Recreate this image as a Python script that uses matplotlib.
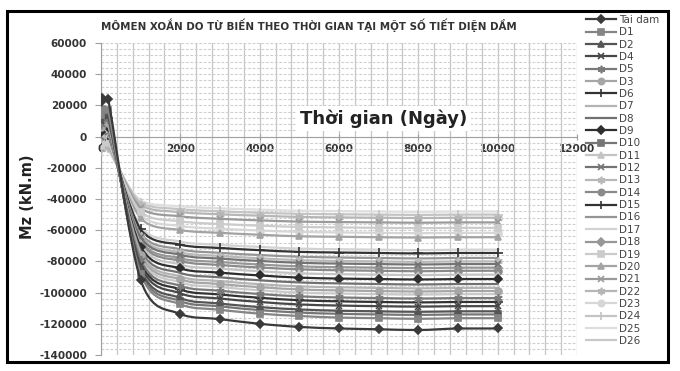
import matplotlib
matplotlib.use("Agg")
import matplotlib.pyplot as plt
from matplotlib.ticker import MultipleLocator
from matplotlib.patches import Rectangle, PathPatch
from matplotlib.path import Path
from matplotlib.lines import Line2D

# ---------------- data ----------------
days = [0, 28, 180, 1000, 2000, 3000, 4000, 5000, 6000, 7000, 8000, 9000, 10000]

series_names = ["Tai dam", "D1", "D2", "D4", "D5", "D3", "D6", "D7", "D8", "D9",
                "D10", "D11", "D12", "D13", "D14", "D15", "D16", "D17", "D18",
                "D19", "D20", "D21", "D22", "D23", "D24", "D25", "D26"]

tai_dam = [22000, 25000, 24000, -92000, -113800, -117000, -120000, -122000, -123000, -123500, -124000, -123000, -123000]
d1 = [14000, 18000, 17000, -88000, -107500, -111000, -113500, -115000, -116000, -116400, -116800, -116400, -116400]
d2 = [12000, 16000, 15000, -85000, -103500, -107000, -109300, -110800, -111600, -112000, -112300, -112000, -112000]
d4 = [10000, 14000, 13000, -82500, -100500, -103800, -106000, -107600, -108300, -108700, -109000, -108700, -108700]
d5 = [8000, 12000, 11000, -79000, -95700, -98800, -100900, -102400, -103100, -103500, -103800, -103500, -103500]
d3 = [6000, 10000, 9000, -76000, -91500, -94500, -96500, -98000, -98600, -99000, -99300, -99000, -99000]
d6 = [9000, 13000, 12000, -80500, -98000, -101200, -103300, -104900, -105600, -106000, -106300, -106000, -106000]
d7 = [5000, 9000, 8000, -74500, -89700, -92600, -94600, -96000, -96600, -97000, -97300, -97000, -97000]
d8 = [4000, 8000, 7000, -73000, -87400, -90200, -92100, -93500, -94100, -94500, -94800, -94500, -94500]
d9 = [3000, 7000, 6000, -70500, -84500, -87200, -89000, -90400, -91000, -91300, -91600, -91300, -91300]
d10 = [13000, 17000, 16000, -86500, -105500, -108800, -111200, -112800, -113600, -114000, -114300, -114000, -114000]
d11 = [2000, 6000, 5000, -69000, -82000, -84600, -86300, -87600, -88200, -88500, -88800, -88500, -88500]
d12 = [0, 4000, 3000, -64500, -75800, -78200, -79700, -80900, -81400, -81700, -82000, -81700, -81700]
d13 = [-1000, 3000, 2000, -63500, -74200, -76500, -78000, -79200, -79700, -80000, -80300, -80000, -80000]
d14 = [1000, 5000, 4000, -67500, -79700, -82300, -83900, -85100, -85700, -86000, -86300, -86000, -86000]
d15 = [-2000, 2000, 1000, -59500, -69300, -71400, -72800, -73900, -74300, -74600, -74900, -74600, -74600]
d16 = [-1500, 2500, 1500, -62000, -72200, -74500, -75900, -77000, -77500, -77800, -78100, -77800, -77800]
d17 = [-3000, 1000, 0, -58000, -67300, -69400, -70700, -71800, -72200, -72500, -72800, -72500, -72500]
d18 = [500, 4500, 3500, -66500, -78000, -80400, -82000, -83200, -83700, -84000, -84300, -84000, -84000]
d19 = [-6000, -3000, -4000, -48500, -54300, -56000, -57100, -57900, -58200, -58500, -58700, -58500, -58500]
d20 = [-4500, -1000, -2000, -52500, -59900, -61700, -62900, -63900, -64200, -64500, -64700, -64500, -64500]
d21 = [-7000, -4000, -5000, -46000, -51100, -52700, -53700, -54500, -54800, -55000, -55200, -55000, -55000]
d22 = [-8000, -5500, -6500, -44000, -48400, -49800, -50700, -51500, -51800, -52000, -52200, -52000, -52000]
d23 = [-5000, -2000, -3000, -50500, -57300, -59000, -60200, -61100, -61400, -61700, -61900, -61700, -61700]
d24 = [-9000, -6500, -7500, -42500, -46500, -47900, -48800, -49500, -49800, -50000, -50200, -50000, -50000]
d25 = [-10000, -8000, -9000, -41000, -44700, -46000, -46800, -47500, -47800, -48000, -48200, -48000, -48000]
d26 = [7000, 11000, 10000, -77500, -93400, -96400, -98500, -100000, -100600, -101000, -101300, -101000, -101000]

series_values = [tai_dam, d1, d2, d4, d5, d3, d6, d7, d8, d9, d10, d11, d12, d13,
                 d14, d15, d16, d17, d18, d19, d20, d21, d22, d23, d24, d25, d26]

x_ticks = [0, 2000, 4000, 6000, 8000, 10000, 12000]
y_ticks = [60000, 40000, 20000, 0, -20000, -40000, -60000, -80000, -100000, -120000, -140000]

# ---------------- styles ----------------
star = (6, 2, 0)
styles = [
    ("#3a3a3a", "D", 4.0), ("#858585", "s", 4.5), ("#555555", "^", 5.0),
    ("#474747", "x", 5.0), ("#7a7a7a", star, 6.0), ("#a6a6a6", "o", 5.0),
    ("#333333", "+", 7.0), ("#b4b4b4", None, 0), ("#707070", None, 0),
    ("#2e2e2e", "D", 4.0), ("#767676", "s", 4.5), ("#c4c4c4", "^", 5.0),
    ("#737373", "x", 5.0), ("#b8b8b8", star, 6.0), ("#8a8a8a", "o", 5.0),
    ("#333333", "+", 7.0), ("#959595", None, 0), ("#d2d2d2", None, 0),
    ("#979797", "D", 4.0), ("#cbcbcb", "s", 4.5), ("#a3a3a3", "^", 5.0),
    ("#9a9a9a", "x", 5.0), ("#b6b6b6", star, 6.0), ("#d6d6d6", "o", 5.0),
    ("#c4c4c4", "+", 7.0), ("#dedede", None, 0), ("#c9c9c9", None, 0),
]
LW = 1.6


def _clamp(v, a, b):
    lo, hi = min(a, b), max(a, b)
    return max(lo, min(hi, v))


def smooth_path(xs, ys):
    """Smoothed line (Excel-like) through the data points, without overshoot."""
    n = len(xs)
    verts = [(xs[0], ys[0])]
    codes = [Path.MOVETO]
    for i in range(n - 1):
        xa, ya = (xs[i - 1], ys[i - 1]) if i > 0 else (xs[i], ys[i])
        xb, yb = xs[i], ys[i]
        xc, yc = xs[i + 1], ys[i + 1]
        xd, yd = (xs[i + 2], ys[i + 2]) if i + 2 < n else (xc, yc)
        c1 = (_clamp(xb + (xc - xa) / 6.0, xb, xc), _clamp(yb + (yc - ya) / 6.0, yb, yc))
        c2 = (_clamp(xc - (xd - xb) / 6.0, xb, xc), _clamp(yc - (yd - yb) / 6.0, yb, yc))
        verts += [c1, c2, (xc, yc)]
        codes += [Path.CURVE4, Path.CURVE4, Path.CURVE4]
    return Path(verts, codes)


W, H = 680, 371
fig = plt.figure(figsize=(W / 100, H / 100), dpi=100)
fig.patch.set_facecolor("white")

ax = fig.add_axes([101 / W, 1 - 355 / H, 476 / W, 312 / H])
ax.set_xlim(0, 12000)
ax.set_ylim(-140000, 60000)

# grid
ax.xaxis.set_minor_locator(MultipleLocator(400))
ax.yaxis.set_minor_locator(MultipleLocator(4000))
ax.grid(which="minor", axis="x", color="#c6c6c6", lw=0.9, ls="-")
ax.grid(which="major", axis="x", color="#c6c6c6", lw=0.9, ls="-")
ax.grid(which="minor", axis="y", color="#cfcfcf", lw=0.8, ls=(0, (2.5, 1.5)))
ax.grid(which="major", axis="y", color="#cfcfcf", lw=0.8, ls=(0, (2.5, 1.5)))
ax.set_axisbelow(True)

handles = []
for i, (name, vals) in enumerate(zip(series_names, series_values)):
    col, mk, ms = styles[i]
    z = 3 + (27 - i) * 0.01
    ax.add_patch(PathPatch(smooth_path(days, vals), facecolor="none",
                           edgecolor=col, lw=LW, zorder=z, capstyle="round",
                           joinstyle="round"))
    if mk is not None:
        ax.plot(days, vals, ls="none", marker=mk, ms=ms, mfc=col, mec=col,
                mew=1.2, zorder=z)
    handles.append(Line2D([], [], color=col, lw=LW, marker=mk, ms=ms * 0.9,
                          mfc=col, mec=col, mew=1.2, label=name))

# spines
for s in ["top", "right"]:
    ax.spines[s].set_visible(False)
ax.spines["bottom"].set_position(("data", 0))
ax.spines["bottom"].set_color("#a0a0a0")
ax.spines["bottom"].set_zorder(2)
ax.spines["left"].set_color("#a0a0a0")

ax.set_xticks(x_ticks)
ax.set_yticks(y_ticks)
ax.set_xticklabels([str(v) for v in x_ticks])
ax.set_yticklabels([str(v) for v in y_ticks])
ax.tick_params(axis="both", which="major", labelsize=7.5, labelcolor="#333333",
               color="#a0a0a0", length=4, width=0.8)
ax.tick_params(axis="x", which="major", direction="inout", pad=3)
ax.tick_params(axis="y", which="major", direction="out", pad=6)
ax.tick_params(which="minor", length=0)
for lab in ax.get_xticklabels() + ax.get_yticklabels():
    lab.set_fontweight("bold")

# title and labels
fig.text(309 / W, 1 - 25 / H, "MÔMEN XOẮN DO TỪ BIẾN THEO THỜI GIAN TẠI MỘT SỐ TIẾT DIỆN DẦM",
         ha="center", va="center", fontsize=7.4, fontweight="bold", color="#333333")
ax.text(7130, 11500, "Thời gian (Ngày)", ha="center", va="center", fontsize=13,
        fontweight="bold", color="#222222",
        bbox=dict(facecolor="white", edgecolor="none", pad=2.5), zorder=5)
fig.text(27 / W, 1 - 197 / H, "Mz (kN.m)", rotation=90, ha="center", va="center",
         fontsize=10.5, fontweight="bold", color="#222222")

leg = ax.legend(handles=handles, loc="upper left",
                bbox_to_anchor=(586 / W, 1 - 15 / H),
                bbox_transform=fig.transFigure, frameon=False, fontsize=7.5,
                labelspacing=0.225, handlelength=2.9, handletextpad=0.25,
                borderpad=0, borderaxespad=0)
for t in leg.get_texts():
    t.set_color("#444444")

# outer border
fig.patches.append(Rectangle((7 / W, 1 - 362 / H), 661 / W, 351 / H,
                             transform=fig.transFigure, fill=False,
                             edgecolor="black", lw=2.2))

fig.savefig("out.png", dpi=100, facecolor="white")
